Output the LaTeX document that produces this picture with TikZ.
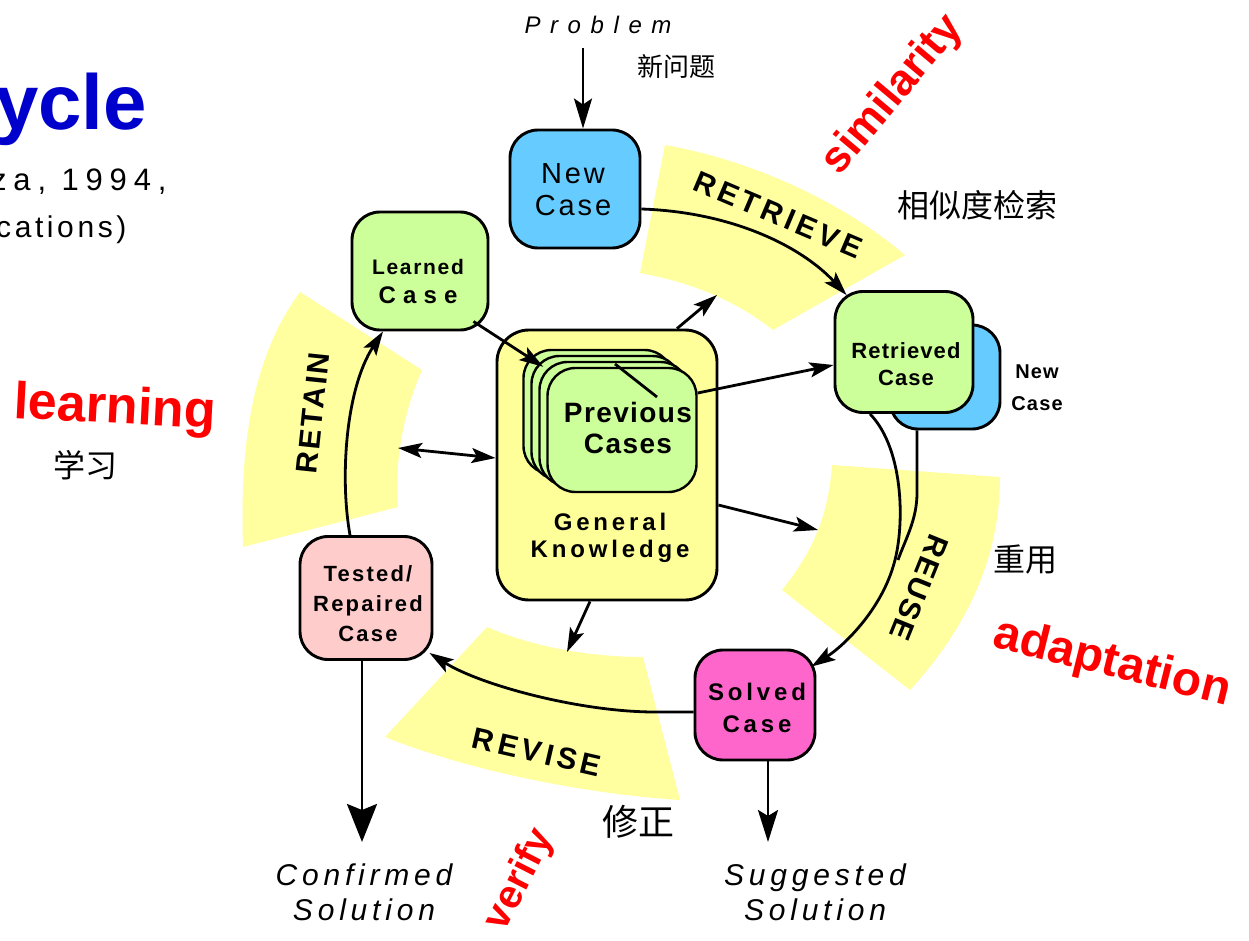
\documentclass[tikz,border=0pt]{standalone}
\usepackage{fontspec}
\setmainfont{Liberation Sans}
\newfontfamily\cjk{Noto Sans CJK SC}
\usetikzlibrary{arrows.meta}
\definecolor{bandY}{RGB}{255,255,160}
\definecolor{knowY}{RGB}{255,255,153}
\definecolor{caseG}{RGB}{204,255,153}
\definecolor{caseB}{RGB}{102,204,255}
\definecolor{caseM}{RGB}{255,102,204}
\definecolor{caseP}{RGB}{255,204,204}
\definecolor{titleB}{RGB}{0,0,204}
\definecolor{hiR}{RGB}{255,0,0}
\newcommand\fsz[2]{\fontsize{#1}{#2}\selectfont}
\newcommand\lsp[1]{\addfontfeature{LetterSpace=#1}}
\begin{document}
\begin{tikzpicture}[x=1pt,y=-1pt,
  box/.style={draw=black, line width=2.9pt, rounded corners=28pt, inner sep=0pt},
  band/.style={fill=bandY, draw=none},
  lbl/.style={inner sep=0pt, align=center},
  phase/.style={inner sep=0pt, font=\bfseries\fsz{30}{34}},
  hint/.style={inner sep=0pt, text=hiR, font=\bfseries\fsz{44}{48}},
  zh/.style={inner sep=0pt, font=\cjk\fsz{32}{36}},
  arr/.style={line width=2.8pt, -{Stealth[length=24pt,width=15pt,inset=5pt]}},
  darr/.style={line width=2.8pt, {Stealth[length=24pt,width=15pt,inset=5pt]}-{Stealth[length=24pt,width=15pt,inset=5pt]}},
  link/.style={line width=2.8pt}
]
\useasboundingbox (0,0) rectangle (1249,941);

% ---- yellow phase bands ----
\fill[band] (665,145) .. controls (750,160) and (840,200) .. (905,255)
  -- (773,330) .. controls (735,300) and (690,282) .. (640,273) -- cycle;
\fill[band] (832,465) -- (1000,477) .. controls (1000,560) and (965,630) .. (910,690)
  -- (782,590) .. controls (810,555) and (828,520) .. (832,465) -- cycle;
\fill[band] (487,627) .. controls (540,650) and (600,657) .. (643,657)
  -- (680,800) .. controls (600,795) and (480,775) .. (385,737) -- cycle;
\fill[band] (300,292) -- (422,370) .. controls (400,420) and (395,470) .. (398,507)
  -- (243,547) .. controls (240,450) and (250,360) .. (300,292) -- cycle;

% ---- title fragment ----
\node[anchor=base west, inner sep=0pt, text=titleB, font=\bfseries\fsz{78}{84}] (title) at (-5,130) {ycle};
\node[anchor=base west, inner sep=0pt, font=\fsz{31}{34}\lsp{22}] (ref1) at (-9,191) {za, 1994,};
\node[anchor=base west, inner sep=0pt, font=\fsz{30}{34}\lsp{12}] (ref2) at (-4,238) {cations)};

% ---- case boxes ----
\node[box, fill=caseB, minimum width=130pt, minimum height=118pt] (newcase) at (575,189) {};
\node[lbl, font=\fsz{29}{32}\lsp{10}] (newcasetxt) at (573,190) {New\\Case};

\node[box, fill=caseG, minimum width=136pt, minimum height=118pt] (learned) at (420,271) {};
\node[lbl, font=\bfseries\fsz{21}{29}\lsp{8}] (learnedtxt) at (418,282) {Learned\\{\fsz{24}{29}\lsp{30}Case}};

\node[box, fill=knowY, rounded corners=32pt, minimum width=220pt, minimum height=270pt] (genknow) at (607,465) {};
\node[lbl, font=\bfseries\fsz{24}{27}\lsp{16}] (genknowtxt) at (610,538) {General\\Knowledge};

\node[box, fill=caseG, line width=2.4pt, minimum width=149pt, minimum height=124pt] (prevA) at (598,412) {};
\node[box, fill=caseG, line width=2.4pt, minimum width=149pt, minimum height=124pt] (prevB) at (606,418) {};
\node[box, fill=caseG, line width=2.4pt, minimum width=149pt, minimum height=124pt] (prevC) at (614,424) {};
\node[box, fill=caseG, line width=2.4pt, minimum width=149pt, minimum height=124pt] (prev) at (622,430) {};
\coordinate (stackA) at (615,364);
\coordinate (stackB) at (657,397);
\draw[link] (stackA) -- (stackB);
\node[lbl, font=\bfseries\fsz{28}{31}\lsp{5}] (prevtxt) at (628,428) {Previous\\Cases};

\node[box, fill=caseB, minimum width=110pt, minimum height=104pt] (newback) at (945,377) {};
\node[box, fill=caseG, minimum width=138pt, minimum height=121pt] (retrieved) at (904,352) {};
\node[lbl, font=\bfseries\fsz{22}{27}\lsp{5}] (retrievedtxt) at (906,364) {Retrieved\\Case};
\node[lbl, font=\bfseries\fsz{20}{32}\lsp{6}] (newbacktxt) at (1037,388) {New\\Case};

\node[box, fill=caseM, minimum width=120pt, minimum height=110pt] (solved) at (755,705) {};
\node[lbl, font=\bfseries\fsz{24}{32}\lsp{16}] (solvedtxt) at (757,708) {Solved\\Case};

\node[box, fill=caseP, minimum width=132pt, minimum height=123pt] (tested) at (366,598) {};
\node[lbl, font=\bfseries\fsz{22}{30}\lsp{10}] (testedtxt) at (368,604) {Tested/\\Repaired\\Case};

% ---- problem and solutions ----
\node[lbl, font=\itshape\fsz{24}{28}\lsp{40}] (problem) at (598,25) {Problem};
\node[lbl, font=\itshape\fsz{30}{35}\lsp{16}] (confirmed) at (364,892) {Confirmed\\Solution};
\node[lbl, font=\itshape\fsz{30}{35}\lsp{16}] (suggested) at (815,892) {Suggested\\Solution};

% ---- phase names ----
\node[phase, rotate=-23, font=\bfseries\fsz{30}{34}\lsp{14}] (retrieve) at (778,215) {RETRIEVE};
\node[phase, rotate=-112, font=\bfseries\fsz{30}{34}\lsp{6}] (reuse) at (919,588) {REUSE};
\node[phase, rotate=-13, font=\bfseries\fsz{30}{34}\lsp{14}] (revise) at (537,752) {REVISE};
\node[phase, rotate=84, font=\bfseries\fsz{30}{34}\lsp{8}] (retain) at (313,413) {RETAIN};

% ---- annotations ----
\node[hint, rotate=50] (similarity) at (893,95) {similarity};
\node[hint, rotate=-3, font=\bfseries\fsz{52}{56}] (learning) at (115,410) {learning};
\node[hint, rotate=-14, font=\bfseries\fsz{48}{52}] (adaptation) at (1112,664) {adaptation};
\node[hint, rotate=63, font=\bfseries\fsz{40}{44}] (verify) at (520,880) {verify};

\node[zh, font=\cjk\fsz{26}{30}] (zhproblem) at (676,67) {新问题};
\node[zh] (zhretrieve) at (977,205) {相似度检索};
\node[zh] (zhlearn) at (85,465) {学习};
\node[zh] (zhreuse) at (1025,560) {重用};
\node[zh, font=\cjk\fsz{36}{40}] (zhrevise) at (638,822) {修正};

% ---- connectors ----
\coordinate (pin) at (583,48);
\draw[line width=2.8pt, -{Stealth[length=30pt,width=18pt,inset=6pt]}] (pin) -- (pin |- newcase.north) ;

\draw[arr] ([yshift=-20pt]newcase.east) .. controls (730,212) and (800,245) .. ([shift={(13pt,-5pt)}]retrieved.north west);

\draw[link] ([xshift=-34pt]retrieved.south) .. controls (905,450) and (905,530) .. (893,567);
\draw[arr] (893,567) .. controls (880,610) and (845,645) .. ([shift={(-5pt,-18pt)}]solved.north east);
\draw[link] ([xshift=-28pt]newback.south) -- (917,493) .. controls (917,520) and (905,540) .. (898,560);

\draw[arr] ([yshift=-7pt]solved.west) -- (655,712) .. controls (580,712) and (480,685) .. ([shift={(-4pt,8pt)}]tested.south east);

\draw[arr] ([xshift=-16pt]tested.north) .. controls (340,480) and (345,390) .. ([xshift=-37pt]learned.south);

\draw[arr] ([shift={(-16pt,10pt)}]learned.south east) -- ([shift={(21pt,-18pt)}]prevA.north west);

\coordinate (retainpt) at (398,448);
\draw[darr] (retainpt) -- ([yshift=7pt]genknow.west);

\coordinate (toretrieve) at (717,295);
\draw[arr] ([xshift=70pt]genknow.north) -- (toretrieve);

\draw[arr] ([yshift=37pt]prev.east) -- ([yshift=-13pt]retrieved.west);

\coordinate (toreuse) at (818,530);
\draw[arr] ([yshift=-40pt]genknow.east) -- (toreuse);

\coordinate (torevise) at (567,652);
\draw[arr] ([xshift=-17pt]genknow.south) -- (torevise);

\draw[line width=2.8pt, -{Stealth[length=32pt,width=20pt,inset=6pt]}] ([xshift=13pt]solved.south) -- ([xshift=13pt]solved.south |- 0,842);
\draw[line width=2.8pt, -{Stealth[length=38pt,width=30pt,inset=6pt]}] ([xshift=-4pt]tested.south) -- ([xshift=-4pt]tested.south |- 0,842);
\end{tikzpicture}
\end{document}
